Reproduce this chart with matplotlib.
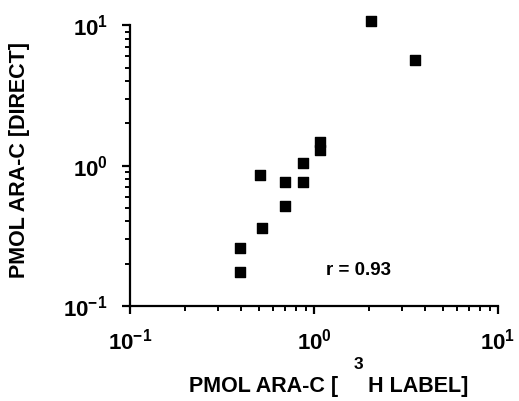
import numpy as np
import matplotlib.pyplot as plt
from matplotlib.ticker import LogLocator, NullFormatter, FuncFormatter

plt.rcParams['font.family'] = ['Liberation Sans', 'DejaVu Sans']
plt.rcParams['font.weight'] = 'bold'
plt.rcParams['mathtext.fontset'] = 'custom'
plt.rcParams['mathtext.rm'] = 'Liberation Sans:bold'
plt.rcParams['mathtext.bf'] = 'Liberation Sans:bold'
plt.rcParams['mathtext.default'] = 'bf'

# values
x_label_pmol = [2.05, 3.56, 1.075, 1.075, 0.873, 0.873, 0.70, 0.70, 0.508, 0.519, 0.395, 0.395]
y_direct_pmol = [10.7, 5.63, 1.48, 1.29, 1.04, 0.767, 0.767, 0.518, 0.856, 0.36, 0.258, 0.175]
corr_text = "r = 0.93"


def pow_fmt(v, pos):
    return r"$\mathbf{10^{%d}}$" % int(round(np.log10(v)))


fig = plt.figure(figsize=(5.19, 4.01), dpi=100)
ax = fig.add_axes([0.2505, 0.237, 0.709, 0.7])

ax.scatter(x_label_pmol, y_direct_pmol, marker='s', s=55, color='black',
           zorder=3, clip_on=False)

ax.set_xscale('log')
ax.set_yscale('log')
ax.set_xlim(0.1, 10)
ax.set_ylim(0.1, 10)

for s in ['top', 'right']:
    ax.spines[s].set_visible(False)
for s in ['left', 'bottom']:
    ax.spines[s].set_linewidth(1.6)

ax.xaxis.set_major_locator(LogLocator(base=10, numticks=5))
ax.yaxis.set_major_locator(LogLocator(base=10, numticks=5))
ax.xaxis.set_minor_locator(LogLocator(base=10, subs=range(2, 10), numticks=20))
ax.yaxis.set_minor_locator(LogLocator(base=10, subs=range(2, 10), numticks=20))
ax.xaxis.set_major_formatter(FuncFormatter(pow_fmt))
ax.yaxis.set_major_formatter(FuncFormatter(pow_fmt))
ax.xaxis.set_minor_formatter(NullFormatter())
ax.yaxis.set_minor_formatter(NullFormatter())

ax.tick_params(which='major', direction='out', length=6, width=1.6, labelsize=16, pad=10)
ax.tick_params(which='minor', direction='out', length=3.5, width=1.4)

fig.text(0.0385, 0.60, "PMOL ARA-C [DIRECT]", fontsize=15.5, fontweight='bold',
         rotation=90, ha='center', va='center')

fig.text(0.634, 0.036, "PMOL ARA-C [     H LABEL]", fontsize=15.5, fontweight='bold',
         ha='center', va='center')
fig.text(0.69, 0.092, "3", fontsize=12.5, fontweight='bold', ha='center', va='center')

ax.text(0.62, 0.125, corr_text, transform=ax.transAxes, fontsize=13.5, fontweight='bold',
        ha='center', va='center')

fig.savefig("out.png", dpi=100)
